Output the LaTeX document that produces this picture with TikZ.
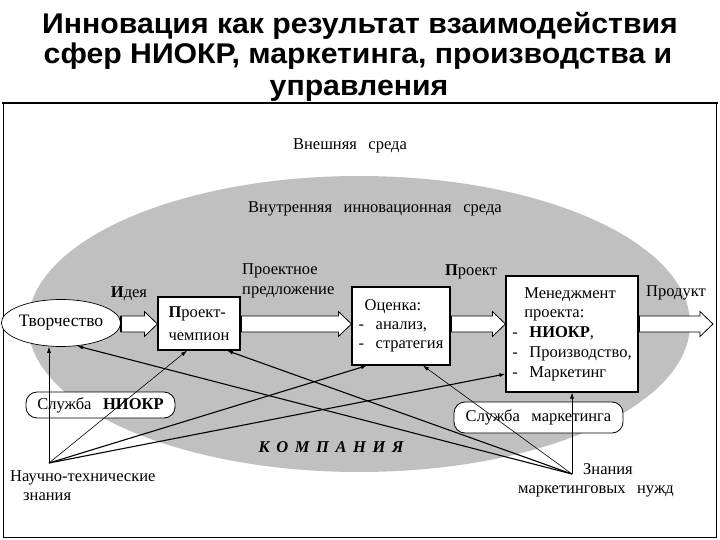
\documentclass[tikz,border=0pt]{standalone}
\usepackage{fontspec}
\setmainfont{Liberation Serif}
\newfontfamily\headfont[FakeStretch=1.06]{Liberation Sans}
\usetikzlibrary{
    positioning,
    arrows.meta,
    shapes.geometric,
    calc,
}
\definecolor{innergray}{RGB}{192,192,192}
\newcommand{\diagfont}{\fontsize{16.5}{19}\selectfont}
\newcommand{\widesp}{\spaceskip=0.7em plus 0.1em\relax}
\newcommand{\lettersp}{\spaceskip=0.4em\relax}
\tikzset{
    % Text styles
    plain/.style={font=\diagfont\widesp, inner sep=1pt},
    title line/.style={font=\headfont\bfseries\fontsize{28.5}{30}\selectfont, anchor=base},
    % Box styles
    flow box/.style={rectangle, draw, line width=1.2pt, fill=white, align=left,
                     font=\diagfont\widesp, inner sep=2pt},
    service/.style={rectangle, draw, rounded corners=11pt, line width=0.8pt,
                    fill=white, font=\diagfont\widesp, inner sep=2pt},
    % Arrow styles
    link/.style={-{Latex[length=6pt,width=4pt]}, line width=0.6pt},
    thick link/.style={link, line width=1.1pt},
    big arrow/.style={draw, fill=white, line width=0.8pt},
}
% wide hollow arrow along the flow row
\newcommand{\flowarrow}[2]{%
    \draw[big arrow] let \p1=(#1 |- row), \p2=(#2 |- row) in
        (\x1,\y1+8pt) -- (\x2-13pt,\y1+8pt) -- (\x2-13pt,\y1+12.5pt) -- (\x2,\y1)
        -- (\x2-13pt,\y1-12.5pt) -- (\x2-13pt,\y1-8pt) -- (\x1,\y1-8pt) -- cycle;
    \draw[line width=2.4pt] let \p1=(#1 |- row) in (\x1,\y1+8pt) -- (\x1,\y1-8pt);
}

\begin{document}
\begin{tikzpicture}[x=1pt, y=-1pt]
    \useasboundingbox (0,0) rectangle (720,540);

    % Title
    \node[title line] (title1) at (360,34) {Инновация как результат взаимодействия};
    \node[title line] (title2) at (358,64) {сфер НИОКР, маркетинга, производства и};
    \node[title line] (title3) at (359,96) {управления};

    % Frame and inner environment
    \draw[line width=0.8pt] (3,103) rectangle (716.5,537);
    \draw[line width=2.6pt] (2,103) -- (717.5,103);
    \fill[innergray] (359,324) ellipse [x radius=331pt, y radius=148pt];

    \node[plain] (outer) at (350,146) {Внешняя среда};
    \node[plain] (inner) at (375,209) {Внутренняя инновационная среда};

    % Flow row
    \coordinate (row) at (0,324);
    \coordinate (prodend) at (713,324);
    \node[ellipse, draw, line width=0.7pt, fill=white, minimum width=110pt,
          minimum height=47pt, inner sep=0pt, font=\fontsize{17.5}{20}\selectfont] (creat) at (61,323) {Творчество};
    \node[flow box, minimum width=82pt, minimum height=53pt] (champ) at (199,323.5)
        {\textbf{П}роект-\\[4pt]чемпион};
    \node[flow box, minimum width=98pt, minimum height=78pt] (eval) at (401,326)
        {\hspace*{6pt}Оценка:\\- анализ,\\- стратегия};
    \node[flow box, minimum width=132pt, minimum height=116pt] (mgmt) at (572,334)
        {\hspace*{12pt}Менеджмент\\\hspace*{12pt}проекта:\\[1pt]- \textbf{НИОКР},\\[1pt]- Производство,\\[1pt]- Маркетинг};

    \flowarrow{creat.east}{champ.west}
    \flowarrow{champ.east}{eval.west}
    \flowarrow{eval.east}{mgmt.west}
    \flowarrow{mgmt.east}{prodend}

    \node[plain] (idea) at (129,294) {\textbf{И}дея};
    \node[plain, anchor=west, align=left] (offer) at (241,281) {Проектное\\[1pt]предложение};
    \node[plain] (proj) at (471,272) {\textbf{П}роект};
    \node[plain] (prod) at (676,293) {Продукт};

    % Services and company
    \node[service, minimum width=149pt, minimum height=26pt] (rnd) at (100.5,405) {Служба \textbf{НИОКР}};
    \node[service, minimum width=169pt, minimum height=31pt] (mkt) at (538.5,417.5) {Служба маркетинга};
    \node[plain, font=\diagfont\bfseries\itshape\lettersp] (comp) at (331,447) {К О М П А Н И Я};

    % Knowledge sources
    \coordinate (ntk) at (49,463);
    \coordinate (mkn) at (572,474);
    \node[plain, anchor=north west, align=left] (ntktext) at (9,469) {Научно-технические\\\hspace*{13pt}знания};
    \node[plain, align=center] (mkntext) at (596,480) {\hspace*{24pt}Знания\\маркетинговых нужд};

    \draw[link] (ntk) -- (creat.south -| ntk);
    \draw[link] (ntk) -- ([xshift=-12pt]champ.south);
    \draw[thick link] (ntk) -- ([xshift=-34pt]eval.south);
    \draw[thick link] (ntk) -- ([yshift=-40pt]mgmt.west);

    \draw[link] (mkn) -- (mgmt.south);
    \draw[link] (mkn) -- ([xshift=22pt]eval.south);
    \draw[thick link] (mkn) -- ([xshift=28pt]champ.south);
    \draw[thick link] (mkn) -- (creat.305);
\end{tikzpicture}
\end{document}
